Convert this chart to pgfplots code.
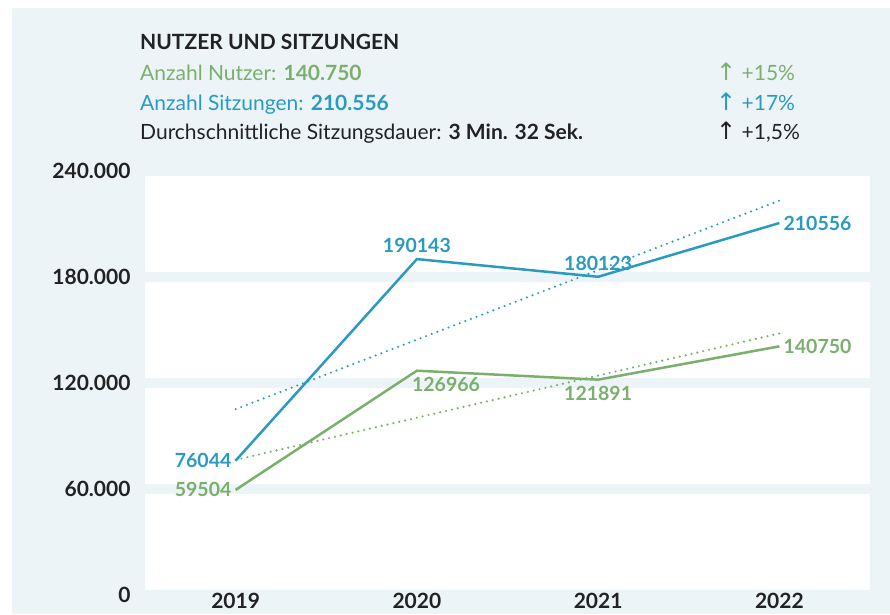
\documentclass[border=0pt]{standalone}
\usepackage{pgfplots}
\usepackage{pgfplotstable}
\pgfplotsset{compat=1.18}
\usepackage{fontspec}
\setmainfont{Lato}
\newfontfamily\arrowfont{DejaVu Sans}
\definecolor{bg}{HTML}{EDF4F8}
\definecolor{sessblue}{HTML}{2A9BC0}
\definecolor{usergreen}{HTML}{7BAF6E}
\definecolor{ink}{HTML}{222222}

% sessions / users per year
\pgfplotstableread{
x y
0 76044
1 190143
2 180123
3 210556
}\sessions
\pgfplotstableread{
x y
0 59504
1 126966
2 121891
3 140750
}\users
% linear trend end points
\pgfplotstableread{
x y
0 105189
3 223244
}\sesstrend
\pgfplotstableread{
x y
0 76478
3 148077
}\usertrend

\newcommand{\bigfs}{\fontsize{21}{24}\selectfont}
\newcommand{\lblfs}{\fontsize{19.5}{22}\selectfont}
\newcommand{\up}{{\arrowfont\fontsize{24}{24}\selectfont ↑}}
\tikzset{lbl/.style={font=\lblfs\bfseries, inner sep=6pt}}

\begin{document}
\begin{tikzpicture}
\useasboundingbox (0,0) rectangle (890pt,614pt);
\fill[bg] (12pt,0) rectangle (890pt,606pt);

\node[anchor=base west, inner sep=0, text=ink, font=\bigfs\bfseries] at (140pt,564pt) {NUTZER UND SITZUNGEN};
\node[anchor=base west, inner sep=0, text=usergreen, font=\bigfs] at (140pt,533pt) {Anzahl Nutzer: \textbf{140.750}};
\node[anchor=base west, inner sep=0, text=sessblue, font=\bigfs] at (140pt,503pt) {Anzahl Sitzungen: \textbf{210.556}};
\node[anchor=base west, inner sep=0, text=ink, font=\bigfs] at (140pt,474pt) {Durchschnittliche Sitzungsdauer: \textbf{3 Min. 32 Sek.}};
\node[anchor=base west, inner sep=0, text=usergreen, font=\bigfs] at (716pt,533pt) {\up\ +15\%};
\node[anchor=base west, inner sep=0, text=sessblue, font=\bigfs] at (716pt,503pt) {\up\ +17\%};
\node[anchor=base west, inner sep=0, text=ink, font=\bigfs] at (716pt,474pt) {\up\ +1,5\%};

\begin{axis}[
    at={(145pt,19pt)}, anchor=south west,
    scale only axis, width=725pt, height=424pt,
    xmin=-0.5, xmax=3.5, ymin=0, ymax=240000,
    xtick={0,1,2,3}, xticklabels={2019,2020,2021,2022},
    ytick={0,60000,120000,180000,240000},
    yticklabels={0,60.000,120.000,180.000,240.000},
    scaled y ticks=false,
    axis background/.style={fill=white},
    ymajorgrids, grid style={bg, line width=10pt},
    axis line style={draw=none}, major tick length=0pt,
    tick label style={font=\bigfs\bfseries, text=ink},
    yticklabel style={xshift=-11pt},
    xticklabel style={yshift=5pt},
    clip=false,
]
\addplot[sessblue, line width=2.4pt, dash pattern=on 0pt off 6pt, line cap=round] table[x=x, y=y] {\sesstrend};
\addplot[usergreen, line width=2.4pt, dash pattern=on 0pt off 6pt, line cap=round] table[x=x, y=y] {\usertrend};
\addplot[sessblue, line width=2.5pt, mark=none] table[x=x, y=y] {\sessions};
\addplot[usergreen, line width=2.5pt, mark=none] table[x=x, y=y] {\users};

\node[lbl, text=sessblue, anchor=east, inner sep=4pt] at (axis cs:0,76044) {76044};
\node[lbl, text=sessblue, anchor=south] at (axis cs:1,190143) {190143};
\node[lbl, text=sessblue, anchor=south] at (axis cs:2,180123) {180123};
\node[lbl, text=sessblue, anchor=west, inner sep=4pt] at (axis cs:3,210556) {210556};
\node[lbl, text=usergreen, anchor=east, inner sep=4pt] at (axis cs:0,59504) {59504};
\node[lbl, text=usergreen, anchor=north west, xshift=-11pt] at (axis cs:1,126966) {126966};
\node[lbl, text=usergreen, anchor=north] at (axis cs:2,121891) {121891};
\node[lbl, text=usergreen, anchor=west, inner sep=4pt] at (axis cs:3,140750) {140750};
\end{axis}
\end{tikzpicture}
\end{document}
